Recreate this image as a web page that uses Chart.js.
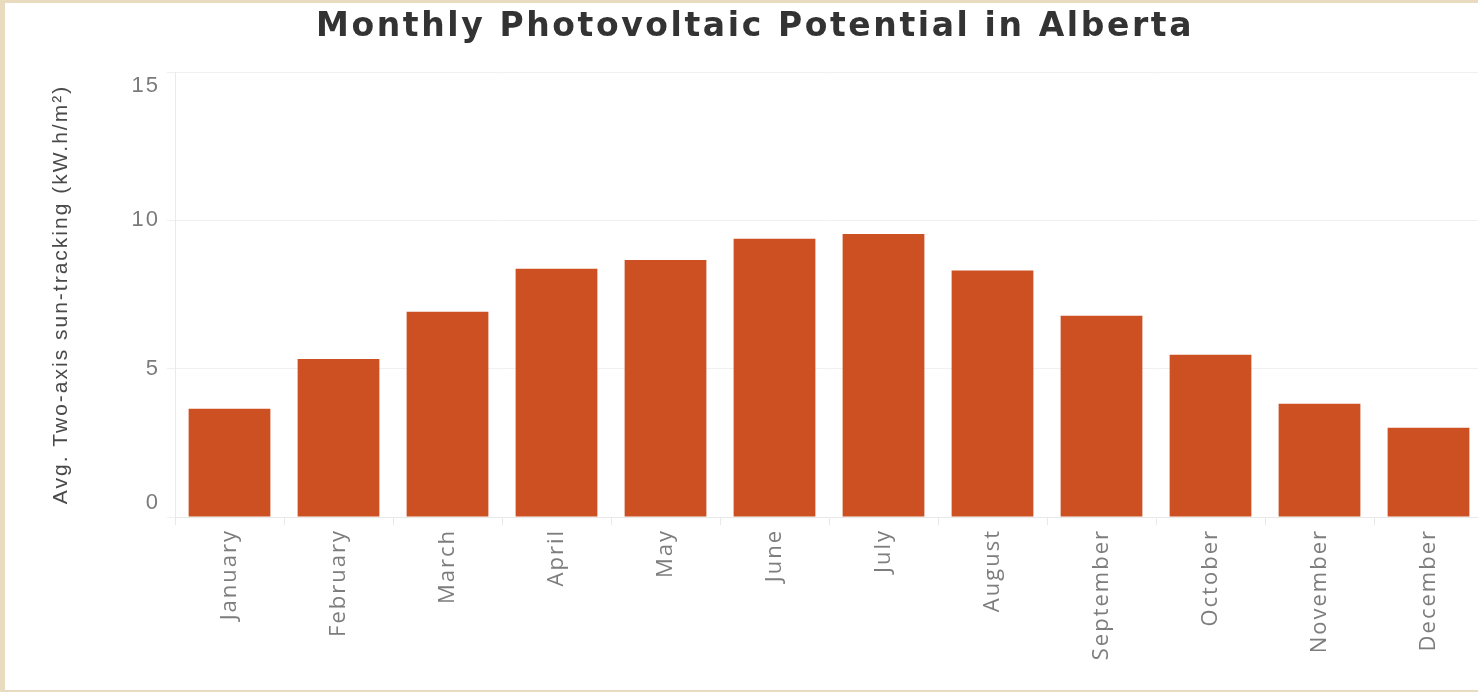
<!DOCTYPE html>
<html>
<head>
<meta charset="utf-8">
<script src="https://cdn.jsdelivr.net/npm/chart.js@4.4.1/dist/chart.umd.min.js"></script>
<style>
  html, body { margin: 0; padding: 0; width: 1478px; height: 692px; overflow: hidden; background: #E9DBBF; }
  #frame { position: absolute; left: 5px; top: 3px; width: 1473px; height: 687px; background: #ffffff; overflow: hidden; }
  #c { position: absolute; left: 0; top: 0; }
</style>
</head>
<body>
<div id="frame"><canvas id="c" width="1500" height="687"></canvas></div>
<script>
const titleText = 'Monthly Photovoltaic Potential in Alberta';
const yAxisTitle = 'Avg. Two-axis sun-tracking (kW.h/m²)';
const months = ['January','February','March','April','May','June','July','August','September','October','November','December'];
const potential = [3.65, 5.33, 6.92, 8.37, 8.66, 9.38, 9.54, 8.31, 6.78, 5.47, 3.82, 3.01];
const yMin = 0, yMax = 15, yStep = 5;

// wider letter spacing for the chart title, as in the reference rendering
if (Chart.Title && Chart.Title._element) {
  const TitleEl = Chart.Title._element;
  const origDraw = TitleEl.prototype.draw;
  TitleEl.prototype.draw = function () {
    const ctx = this.ctx;
    ctx.save();
    try { ctx.letterSpacing = '2.6px'; } catch (e) {}
    origDraw.apply(this, arguments);
    ctx.restore();
  };
}

const spacingPlugin = {
  id: 'spacing',
  beforeUpdate(chart) { try { chart.ctx.letterSpacing = '2px'; } catch (e) {} },
  beforeDraw(chart) { try { chart.ctx.letterSpacing = '2px'; } catch (e) {} }
};

new Chart(document.getElementById('c'), {
  type: 'bar',
  data: {
    labels: months,
    datasets: [{
      data: potential,
      backgroundColor: '#CD5023',
      borderWidth: 0,
      categoryPercentage: 1.0,
      barPercentage: 0.75
    }]
  },
  plugins: [spacingPlugin],
  options: {
    responsive: false,
    animation: false,
    devicePixelRatio: 1,
    layout: { padding: { left: 22, right: 22, top: 0, bottom: 0 } },
    plugins: {
      legend: { display: false },
      tooltip: { enabled: false },
      title: {
        display: true,
        text: titleText,
        color: '#333333',
        font: { family: '"DejaVu Sans", "Liberation Sans", Arial, sans-serif', size: 33, weight: 'bold', lineHeight: 1.2 },
        padding: { top: 5, bottom: 24.4 }
      }
    },
    scales: {
      x: {
        offset: true,
        grid: { display: true, drawOnChartArea: false, drawTicks: true, tickLength: 8, color: '#e8e8e8', offset: true },
        border: { display: true, color: '#e8e8e8' },
        ticks: {
          color: '#7d7d7d',
          font: { family: '"Open Sans", sans-serif', size: 22 },
          minRotation: 90, maxRotation: 90,
          autoSkip: false,
          padding: 4
        },
        afterFit(scale) { scale.height = 173; }
      },
      y: {
        min: yMin, max: yMax,
        grid: { color: '#f0f0f0', drawTicks: true, tickLength: 8 },
        border: { display: true, color: '#eaeaea' },
        ticks: {
          stepSize: yStep,
          color: '#7b7b7b',
          padding: 7,
          font: { family: '"Liberation Sans", Arial, sans-serif', size: 22, lineHeight: 1.25 },
          callback(value) {
            if (value === yMax) return ['', String(value)];
            if (value === yMin) return [String(value), ''];
            return String(value);
          }
        },
        title: {
          display: true,
          text: yAxisTitle,
          color: '#4a4a4a',
          font: { family: '"Liberation Sans", Arial, sans-serif', size: 21, lineHeight: 1.2 },
          padding: { top: 22, bottom: 0 }
        },
        afterFit(scale) { scale.width = 148; }
      }
    }
  }
});
</script>
</body>
</html>
